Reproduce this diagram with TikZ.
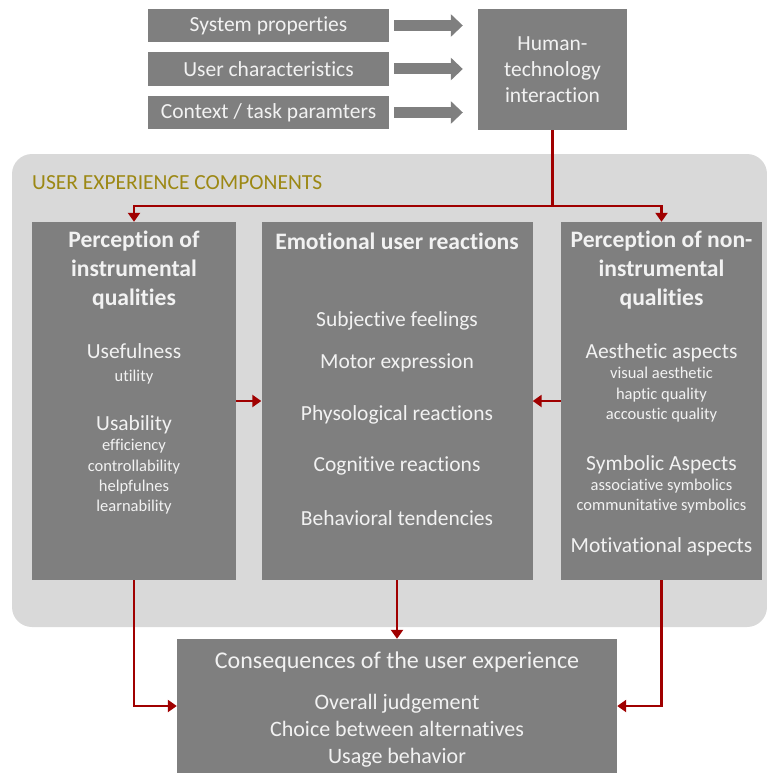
\documentclass[tikz,border=0pt]{standalone}
\usepackage{fontspec}
\setmainfont{Carlito}[Ligatures=NoCommon]
\usetikzlibrary{arrows.meta}

\definecolor{boxgray}{RGB}{127,127,127}
\definecolor{backgray}{RGB}{217,217,217}
\definecolor{boxtext}{RGB}{242,242,242}
\definecolor{uxred}{RGB}{160,0,0}
\definecolor{uxolive}{RGB}{156,136,20}

\newcommand{\uxmid}{\fontsize{21.5}{26.2}\selectfont}
\newcommand{\uxsmall}{\fontsize{16.5}{20.3}\selectfont}
\newcommand{\uxhead}{\fontsize{23.6}{28.8}\selectfont}
\newcommand{\uxbig}{\fontsize{24}{29}\selectfont}

\begin{document}
\begin{tikzpicture}[x=1pt,y=-1pt]
	\tikzstyle{box}=[fill=boxgray,text=boxtext,inner sep=0pt,align=center,font=\uxmid]
	\tikzstyle{label text}=[text=boxtext,inner sep=0pt,align=center,font=\uxmid]
	\tikzstyle{fat arrow}=[draw=boxgray,line width=11pt,-{Triangle[length=12pt,width=22pt]},shorten <=5pt,shorten >=15pt]
	\tikzstyle{red line}=[draw=uxred,line width=2.4pt]
	\tikzstyle{red arrow}=[red line,-{Triangle[length=9pt,width=12pt]}]

	\useasboundingbox (0,0) rectangle (767,773);

	% grey area behind the components
	\fill[backgray,rounded corners=20pt] (12,154) rectangle (767,627);
	\node[anchor=west,inner sep=0pt,text=uxolive,font=\uxmid] (uxc) at (32,183) {USER EXPERIENCE COMPONENTS};

	% inputs
	\node[box,minimum width=241pt,minimum height=33pt] (sys) at (268.5,25.5) {System properties};
	\node[box,minimum width=241pt,minimum height=34pt] (usr) at (268.5,69) {User characteristics};
	\node[box,minimum width=241pt,minimum height=33pt] (ctx) at (268.5,112.5) {Context / task paramters};
	\node[box,minimum width=149pt,minimum height=121pt] (hti) at (552.5,69.5) {Human-\\technology\\interaction};

	\draw[fat arrow] (sys.east) -- (sys.east -| hti.west);
	\draw[fat arrow] (usr.east) -- (usr.east -| hti.west);
	\draw[fat arrow] (ctx.east) -- (ctx.east -| hti.west);

	% components
	\node[box,minimum width=204pt,minimum height=358pt] (instr) at (134,401) {};
	\node[box,minimum width=271pt,minimum height=358pt] (emo) at (397,401) {};
	\node[box,minimum width=201pt,minimum height=358pt] (noninstr) at (661.5,401) {};

	\node[label text,font=\uxhead\bfseries] (instr title) at (134,270) {Perception of\\instrumental\\qualities};
	\node[label text,font=\uxsmall] (useful) at (134,364) {{\uxmid Usefulness}\\[2pt]utility};
	\node[label text,font=\uxsmall] (usab) at (134,465) {{\uxmid Usability}\\efficiency\\controllability\\helpfulnes\\learnability};

	\node[label text,font=\uxhead\bfseries] (emo title) at (397,241) {Emotional user reactions};
	\foreach \txt/\y [count=\i] in {Subjective feelings/321,Motor expression/363,Physological reactions/415,Cognitive reactions/466,Behavioral tendencies/518}
		\node[label text] (emo\i) at (397,\y) {\txt};

	\node[label text,font=\uxhead\bfseries] (noninstr title) at (661.5,270) {Perception of non-\\instrumental\\qualities};
	\node[label text,font=\uxsmall] (aesth) at (661.5,383) {{\uxmid Aesthetic aspects}\\visual aesthetic\\haptic quality\\accoustic quality};
	\node[label text,font=\uxsmall] (symb) at (661.5,484.5) {{\uxmid Symbolic Aspects}\\associative symbolics\\communitative symbolics};
	\node[label text] (motiv) at (661.5,547) {Motivational aspects};

	% consequences
	\node[box,minimum width=440pt,minimum height=134pt] (cons) at (397,706) {};
	\node[label text,font=\uxbig] (cons title) at (397,662) {Consequences of the user experience};
	\node[label text,font=\fontsize{22}{27}\selectfont] (cons items) at (397,731) {Overall judgement\\Choice between alternatives\\Usage behavior};

	% red connectors
	\path (hti.south) ++(0,76) coordinate (split);
	\draw[red line] (hti.south) -- (split);
	\draw[red arrow] (split) -| (instr.north);
	\draw[red arrow] (split) -| (noninstr.north);
	\draw[red arrow] (instr) -- (emo);
	\draw[red arrow] (noninstr) -- (emo);
	\draw[red arrow] (emo) -- (cons);
	\draw[red arrow] (instr.south) |- (cons.west);
	\draw[red arrow] (noninstr.south) |- (cons.east);
\end{tikzpicture}
\end{document}
